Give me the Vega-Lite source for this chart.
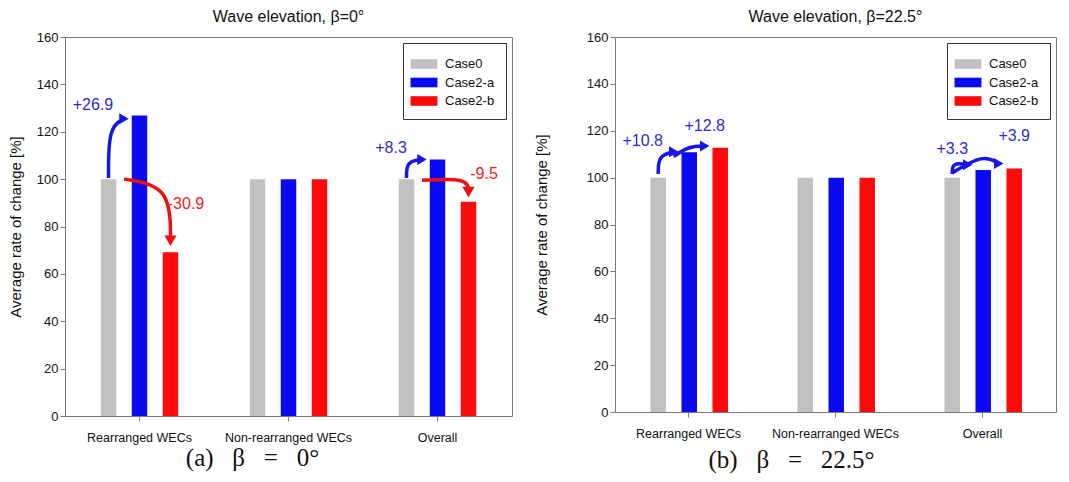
{
  "$schema": "https://vega.github.io/schema/vega-lite/v6.json",
  "background": "white",
  "padding": {"left": 7, "top": 8, "right": 5, "bottom": 5},
  "spacing": 20,
  "resolve": {"scale": {"color": "independent"}, "legend": {"color": "independent"}},
  "config": {
    "view": {"stroke": "#7a7a7a", "strokeWidth": 1},
    "axis": {"domainColor": "#7a7a7a", "tickColor": "#7a7a7a", "labelColor": "#111", "titleColor": "#111", "labelFont": "Liberation Sans", "titleFont": "Liberation Sans", "grid": false},
    "title": {"font": "Liberation Sans", "fontSize": 16, "fontWeight": "normal", "color": "#111", "offset": 6},
    "legend": {"labelFont": "Liberation Sans"}
  },
  "datasets": {
    "bars": [
      {"panel": "a", "group": "Rearranged WECs", "case": "Case0", "value": 100},
      {"panel": "a", "group": "Rearranged WECs", "case": "Case2-a", "value": 126.9},
      {"panel": "a", "group": "Rearranged WECs", "case": "Case2-b", "value": 69.1},
      {"panel": "a", "group": "Non-rearranged WECs", "case": "Case0", "value": 100},
      {"panel": "a", "group": "Non-rearranged WECs", "case": "Case2-a", "value": 100},
      {"panel": "a", "group": "Non-rearranged WECs", "case": "Case2-b", "value": 100},
      {"panel": "a", "group": "Overall", "case": "Case0", "value": 100},
      {"panel": "a", "group": "Overall", "case": "Case2-a", "value": 108.3},
      {"panel": "a", "group": "Overall", "case": "Case2-b", "value": 90.5},
      {"panel": "b", "group": "Rearranged WECs", "case": "Case0", "value": 100},
      {"panel": "b", "group": "Rearranged WECs", "case": "Case2-a", "value": 110.8},
      {"panel": "b", "group": "Rearranged WECs", "case": "Case2-b", "value": 112.8},
      {"panel": "b", "group": "Non-rearranged WECs", "case": "Case0", "value": 100},
      {"panel": "b", "group": "Non-rearranged WECs", "case": "Case2-a", "value": 100},
      {"panel": "b", "group": "Non-rearranged WECs", "case": "Case2-b", "value": 100},
      {"panel": "b", "group": "Overall", "case": "Case0", "value": 100},
      {"panel": "b", "group": "Overall", "case": "Case2-a", "value": 103.3},
      {"panel": "b", "group": "Overall", "case": "Case2-b", "value": 103.9}
    ],
    "arrows": [
      {"panel": "a", "arrow": "a1", "sign": "+", "group": "Rearranged WECs", "seq": 1, "anchor": "Case0", "value": 100.5},
      {"panel": "a", "arrow": "a1", "sign": "+", "group": "Rearranged WECs", "seq": 2, "anchor": "Case0", "value": 122},
      {"panel": "a", "arrow": "a1", "sign": "+", "group": "Rearranged WECs", "seq": 3, "anchor": "g1", "value": 125.5},
      {"panel": "a", "arrow": "a2", "sign": "-", "group": "Rearranged WECs", "seq": 1, "anchor": "g1", "value": 100},
      {"panel": "a", "arrow": "a2", "sign": "-", "group": "Rearranged WECs", "seq": 2, "anchor": "Case2-b", "value": 97},
      {"panel": "a", "arrow": "a2", "sign": "-", "group": "Rearranged WECs", "seq": 3, "anchor": "Case2-b", "value": 74},
      {"panel": "a", "arrow": "a3", "sign": "+", "group": "Overall", "seq": 1, "anchor": "Case0", "value": 100.5},
      {"panel": "a", "arrow": "a3", "sign": "+", "group": "Overall", "seq": 2, "anchor": "Case0", "value": 107.5},
      {"panel": "a", "arrow": "a3", "sign": "+", "group": "Overall", "seq": 3, "anchor": "g1", "value": 108.3},
      {"panel": "a", "arrow": "a4", "sign": "-", "group": "Overall", "seq": 1, "anchor": "g1", "value": 99.5},
      {"panel": "a", "arrow": "a4", "sign": "-", "group": "Overall", "seq": 2, "anchor": "Case2-b", "value": 100.5},
      {"panel": "a", "arrow": "a4", "sign": "-", "group": "Overall", "seq": 3, "anchor": "Case2-b", "value": 94.5},
      {"panel": "b", "arrow": "b1", "sign": "+", "group": "Rearranged WECs", "seq": 1, "anchor": "Case0", "value": 101.5},
      {"panel": "b", "arrow": "b1", "sign": "+", "group": "Rearranged WECs", "seq": 2, "anchor": "Case0", "value": 109.5},
      {"panel": "b", "arrow": "b1", "sign": "+", "group": "Rearranged WECs", "seq": 3, "anchor": "g1", "value": 111},
      {"panel": "b", "arrow": "b2", "sign": "+", "group": "Rearranged WECs", "seq": 1, "anchor": "g1", "value": 109},
      {"panel": "b", "arrow": "b2", "sign": "+", "group": "Rearranged WECs", "seq": 2, "anchor": "Case2-a", "value": 113.5},
      {"panel": "b", "arrow": "b2", "sign": "+", "group": "Rearranged WECs", "seq": 3, "anchor": "g2", "value": 113.5},
      {"panel": "b", "arrow": "b3", "sign": "+", "group": "Overall", "seq": 1, "anchor": "Case0", "value": 101.5},
      {"panel": "b", "arrow": "b3", "sign": "+", "group": "Overall", "seq": 2, "anchor": "Case0", "value": 106.5},
      {"panel": "b", "arrow": "b3", "sign": "+", "group": "Overall", "seq": 3, "anchor": "g1", "value": 105.5},
      {"panel": "b", "arrow": "b4", "sign": "+", "group": "Overall", "seq": 1, "anchor": "Case0", "value": 102},
      {"panel": "b", "arrow": "b4", "sign": "+", "group": "Overall", "seq": 2, "anchor": "Case2-a", "value": 110},
      {"panel": "b", "arrow": "b4", "sign": "+", "group": "Overall", "seq": 3, "anchor": "g2", "value": 106}
    ],
    "labels": [
      {"panel": "a", "sign": "+", "group": "Rearranged WECs", "anchor": "pre", "value": 131.5, "text": "+26.9"},
      {"panel": "a", "sign": "-", "group": "Rearranged WECs", "anchor": "post", "value": 89.3, "text": "-30.9"},
      {"panel": "a", "sign": "+", "group": "Overall", "anchor": "pre", "value": 113.3, "text": "+8.3"},
      {"panel": "a", "sign": "-", "group": "Overall", "anchor": "post", "value": 102.3, "text": "-9.5"},
      {"panel": "b", "sign": "+", "group": "Rearranged WECs", "anchor": "pre", "value": 115.6, "text": "+10.8"},
      {"panel": "b", "sign": "+", "group": "Rearranged WECs", "anchor": "g2", "value": 122, "text": "+12.8"},
      {"panel": "b", "sign": "+", "group": "Overall", "anchor": "Case0", "value": 112.2, "text": "+3.3"},
      {"panel": "b", "sign": "+", "group": "Overall", "anchor": "Case2-b", "value": 117.8, "text": "+3.9"}
    ]
  },
  "hconcat": [
    {
      "width": 447,
      "height": 379,
      "title": {"text": "Wave elevation, β=0°"},
      "layer": [
        {
          "data": {"name": "bars"},
          "transform": [{"filter": "datum.panel == 'a'"}],
          "mark": {"type": "bar"},
          "encoding": {
            "x": {"field": "group", "type": "nominal", "sort": ["Rearranged WECs", "Non-rearranged WECs", "Overall"], "scale": {"paddingInner": 0.272, "paddingOuter": 0.136},
              "axis": {"labelAngle": 0, "labelFontSize": 12.5, "tickSize": 5, "labelPadding": 10, "title": "(a) \u2002β \u2002= \u20020°", "titleFont": "Liberation Serif", "titleFontSize": 25, "titleFontWeight": "normal", "titlePadding": 2, "titleX": 187}},
            "xOffset": {"field": "case", "type": "nominal", "scale": {"domain": ["pre", "Case0", "g1", "Case2-a", "g2", "Case2-b", "post"], "paddingInner": 0, "paddingOuter": 0}},
            "y": {"field": "value", "type": "quantitative", "scale": {"domain": [0, 160]},
              "axis": {"values": [0, 20, 40, 60, 80, 100, 120, 140, 160], "labelFontSize": 13, "tickSize": 5, "title": "Average rate of change [%]", "titleFontSize": 15, "titleFontWeight": "normal", "titlePadding": 13}},
            "color": {"field": "case", "type": "nominal", "scale": {"domain": ["Case0", "Case2-a", "Case2-b"], "range": ["#c0c0c0", "#0a0af2", "#ff0a0a"]},
              "legend": {"title": null, "orient": "top-right", "offset": 6, "padding": 11, "strokeColor": "#333", "fillColor": "white", "symbolType": "M-1.4,-0.5H1.4V0.5H-1.4Z", "symbolSize": 370, "symbolStrokeWidth": 0, "labelFontSize": 13, "labelOffset": 11, "rowPadding": 1.5, "labelColor": "#111"}}
          }
        },
        {
          "data": {"name": "arrows"},
          "transform": [{"filter": "datum.panel == 'a' && datum.sign == '+'"}],
          "mark": {"type": "line", "interpolate": "basis", "strokeWidth": 3.5, "color": "#1616e8"},
          "encoding": {
            "x": {"field": "group", "type": "nominal", "sort": ["Rearranged WECs", "Non-rearranged WECs", "Overall"]},
            "xOffset": {"field": "anchor", "type": "nominal"},
            "y": {"field": "value", "type": "quantitative"},
            "detail": {"field": "arrow"},
            "order": {"field": "seq", "type": "quantitative"}
          }
        },
        {
          "data": {"name": "arrows"},
          "transform": [{"filter": "datum.panel == 'a' && datum.sign == '-'"}],
          "mark": {"type": "line", "interpolate": "basis", "strokeWidth": 3.5, "color": "#ee1010"},
          "encoding": {
            "x": {"field": "group", "type": "nominal", "sort": ["Rearranged WECs", "Non-rearranged WECs", "Overall"]},
            "xOffset": {"field": "anchor", "type": "nominal"},
            "y": {"field": "value", "type": "quantitative"},
            "detail": {"field": "arrow"},
            "order": {"field": "seq", "type": "quantitative"}
          }
        },
        {
          "data": {"name": "arrows"},
          "transform": [{"filter": "datum.panel == 'a' && datum.sign == '+' && datum.seq == 3"}],
          "mark": {"type": "point", "filled": true, "shape": "triangle-right", "size": 120, "opacity": 1, "color": "#1616e8"},
          "encoding": {
            "x": {"field": "group", "type": "nominal", "sort": ["Rearranged WECs", "Non-rearranged WECs", "Overall"]},
            "xOffset": {"field": "anchor", "type": "nominal"},
            "y": {"field": "value", "type": "quantitative"}
          }
        },
        {
          "data": {"name": "arrows"},
          "transform": [{"filter": "datum.panel == 'a' && datum.sign == '-' && datum.seq == 3"}],
          "mark": {"type": "point", "filled": true, "shape": "triangle-down", "size": 150, "opacity": 1, "color": "#ee1010"},
          "encoding": {
            "x": {"field": "group", "type": "nominal", "sort": ["Rearranged WECs", "Non-rearranged WECs", "Overall"]},
            "xOffset": {"field": "anchor", "type": "nominal"},
            "y": {"field": "value", "type": "quantitative"}
          }
        },
        {
          "data": {"name": "labels"},
          "transform": [{"filter": "datum.panel == 'a' && datum.sign == '+'"}],
          "mark": {"type": "text", "font": "Liberation Sans", "fontSize": 16, "color": "#2b2bd6", "baseline": "middle"},
          "encoding": {
            "x": {"field": "group", "type": "nominal", "sort": ["Rearranged WECs", "Non-rearranged WECs", "Overall"]},
            "xOffset": {"field": "anchor", "type": "nominal"},
            "y": {"field": "value", "type": "quantitative"},
            "text": {"field": "text"}
          }
        },
        {
          "data": {"name": "labels"},
          "transform": [{"filter": "datum.panel == 'a' && datum.sign == '-'"}],
          "mark": {"type": "text", "font": "Liberation Sans", "fontSize": 16, "color": "#ee1c24", "baseline": "middle"},
          "encoding": {
            "x": {"field": "group", "type": "nominal", "sort": ["Rearranged WECs", "Non-rearranged WECs", "Overall"]},
            "xOffset": {"field": "anchor", "type": "nominal"},
            "y": {"field": "value", "type": "quantitative"},
            "text": {"field": "text"}
          }
        }
      ]
    },
    {
      "width": 441,
      "height": 375,
      "title": {"text": "Wave elevation, β=22.5°"},
      "layer": [
        {
          "data": {"name": "bars"},
          "transform": [{"filter": "datum.panel == 'b'"}],
          "mark": {"type": "bar"},
          "encoding": {
            "x": {"field": "group", "type": "nominal", "sort": ["Rearranged WECs", "Non-rearranged WECs", "Overall"], "scale": {"paddingInner": 0.272, "paddingOuter": 0.136},
              "axis": {"labelAngle": 0, "labelFontSize": 12.5, "tickSize": 5, "labelPadding": 10, "title": "(b) \u2002β \u2002= \u200222.5°", "titleFont": "Liberation Serif", "titleFontSize": 25, "titleFontWeight": "normal", "titlePadding": 8, "titleX": 176}},
            "xOffset": {"field": "case", "type": "nominal", "scale": {"domain": ["pre", "Case0", "g1", "Case2-a", "g2", "Case2-b", "post"], "paddingInner": 0, "paddingOuter": 0}},
            "y": {"field": "value", "type": "quantitative", "scale": {"domain": [0, 160]},
              "axis": {"values": [0, 20, 40, 60, 80, 100, 120, 140, 160], "labelFontSize": 13, "tickSize": 5, "title": "Average rate of change [%]", "titleFontSize": 15, "titleFontWeight": "normal", "titleX": -66}},
            "color": {"field": "case", "type": "nominal", "scale": {"domain": ["Case0", "Case2-a", "Case2-b"], "range": ["#c0c0c0", "#0a0af2", "#ff0a0a"]},
              "legend": {"title": null, "orient": "top-right", "offset": 6, "padding": 11, "strokeColor": "#333", "fillColor": "white", "symbolType": "M-1.4,-0.5H1.4V0.5H-1.4Z", "symbolSize": 370, "symbolStrokeWidth": 0, "labelFontSize": 13, "labelOffset": 11, "rowPadding": 1.5, "labelColor": "#111"}}
          }
        },
        {
          "data": {"name": "arrows"},
          "transform": [{"filter": "datum.panel == 'b' && datum.sign == '+'"}],
          "mark": {"type": "line", "interpolate": "basis", "strokeWidth": 3.5, "color": "#1616e8"},
          "encoding": {
            "x": {"field": "group", "type": "nominal", "sort": ["Rearranged WECs", "Non-rearranged WECs", "Overall"]},
            "xOffset": {"field": "anchor", "type": "nominal"},
            "y": {"field": "value", "type": "quantitative"},
            "detail": {"field": "arrow"},
            "order": {"field": "seq", "type": "quantitative"}
          }
        },
        {
          "data": {"name": "arrows"},
          "transform": [{"filter": "datum.panel == 'b' && datum.seq == 3"}],
          "mark": {"type": "point", "filled": true, "shape": "triangle-right", "size": 120, "opacity": 1, "color": "#1616e8"},
          "encoding": {
            "x": {"field": "group", "type": "nominal", "sort": ["Rearranged WECs", "Non-rearranged WECs", "Overall"]},
            "xOffset": {"field": "anchor", "type": "nominal"},
            "y": {"field": "value", "type": "quantitative"}
          }
        },
        {
          "data": {"name": "labels"},
          "transform": [{"filter": "datum.panel == 'b'"}],
          "mark": {"type": "text", "font": "Liberation Sans", "fontSize": 16, "color": "#2b2bd6", "baseline": "middle"},
          "encoding": {
            "x": {"field": "group", "type": "nominal", "sort": ["Rearranged WECs", "Non-rearranged WECs", "Overall"]},
            "xOffset": {"field": "anchor", "type": "nominal"},
            "y": {"field": "value", "type": "quantitative"},
            "text": {"field": "text"}
          }
        }
      ]
    }
  ]
}
